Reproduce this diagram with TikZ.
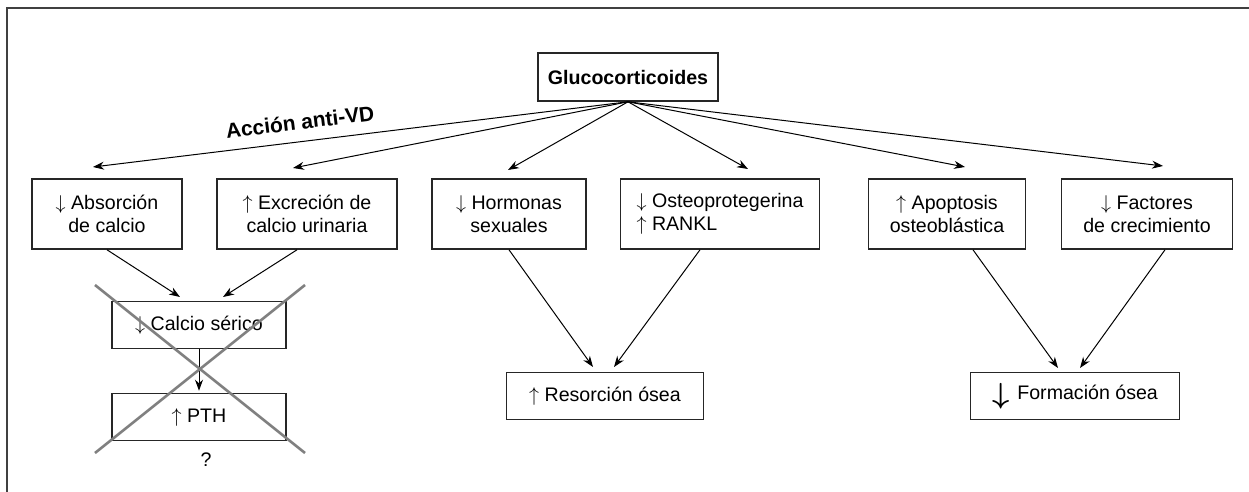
\documentclass[tikz,border=0pt]{standalone}
\usepackage{fontspec}
\setmainfont{Liberation Sans}
\usetikzlibrary{arrows.meta}
\tikzset{
  caja/.style={draw=black!85, line width=0.8pt, align=center, inner sep=2pt,
    minimum height=35pt},
  cajab/.style={caja, minimum height=23.5pt},
  flecha/.style={-{Stealth[length=5.5pt,width=4pt]}, line width=0.5pt},
  tacha/.style={draw=black!50, line width=1.3pt},
}
\begin{document}
\begin{tikzpicture}[x=0.5pt,y=-0.5pt,font=\fontsize{9.8}{11.5}\selectfont]
  \useasboundingbox (0,0) rectangle (1249,492);
  % marco
  \draw[line width=1pt, black!75] (7,492) -- (7,8) -- (1249,8);
  % nodos
  \node[caja, minimum width=90pt, minimum height=24pt, font=\fontsize{9.8}{11.5}\selectfont\bfseries]
    (gl) at (628,77) {Glucocorticoides};
  \node[caja, minimum width=75pt] (ab) at (107,214) {$\downarrow$ Absorción\\de calcio};
  \node[caja, minimum width=90pt] (ex) at (307,214) {$\uparrow$ Excreción de\\calcio urinaria};
  \node[caja, minimum width=77pt] (ho) at (509,214) {$\downarrow$ Hormonas\\sexuales};
  \node[caja, minimum width=99.5pt, align=left] (os) at (720,214) {$\downarrow$ Osteoprotegerina\\$\uparrow$ RANKL};
  \node[caja, minimum width=78.5pt] (ap) at (947,214) {$\uparrow$ Apoptosis\\osteoblástica};
  \node[caja, minimum width=85.5pt] (fa) at (1147,214) {$\downarrow$ Factores\\de crecimiento};
  \node[cajab, minimum width=87pt] (ca) at (199,325) {$\downarrow$ Calcio sérico};
  \node[cajab, minimum width=87pt] (pt) at (199,417) {$\uparrow$ PTH};
  \node[cajab, minimum width=98.5pt] (re) at (605,396) {$\uparrow$ Resorción ósea};
  \node[cajab, minimum width=104.5pt] (fo) at (1075,396)
    {\raisebox{-2pt}{\scalebox{1.5}[1.45]{\boldmath$\downarrow$}}\hspace{4pt}Formación ósea};
  % labels
  \node (q) at (206,460) {?};
  \node[font=\fontsize{10.5}{12}\selectfont\bfseries, rotate=7] (vd) at (300,122) {Acción anti-VD};
  % puntas
  \coordinate (tab) at (93,167); \coordinate (tex) at (293,168);
  \coordinate (tho) at (508,170); \coordinate (tos) at (748,169);
  \coordinate (tap) at (965,167); \coordinate (tfa) at (1163,166);
  \coordinate (tca1) at (180,297); \coordinate (tca2) at (223,297);
  \coordinate (tre1) at (593,367); \coordinate (tre2) at (614,367);
  \coordinate (tfo1) at (1058,368); \coordinate (tfo2) at (1080,368);
  % flechas
  \foreach \t in {tab,tex,tho,tos,tap,tfa}
    \draw[flecha] (gl.south) -- (\t);
  \draw[flecha] (ab.south) -- (tca1);
  \draw[flecha] ([xshift=-5pt]ex.south) -- (tca2);
  \draw[flecha] (ca.south) -- ([yshift=1pt]pt.north);
  \draw[flecha] (ho.south) -- (tre1);
  \draw[flecha] ([xshift=-10pt]os.south) -- (tre2);
  \draw[flecha] ([xshift=13pt]ap.south) -- (tfo1);
  \draw[flecha] ([xshift=9pt]fa.south) -- (tfo2);
  % tachado
  \draw[tacha] (95,285) -- (305,453);
  \draw[tacha] (305,285) -- (95,453);
\end{tikzpicture}
\end{document}
